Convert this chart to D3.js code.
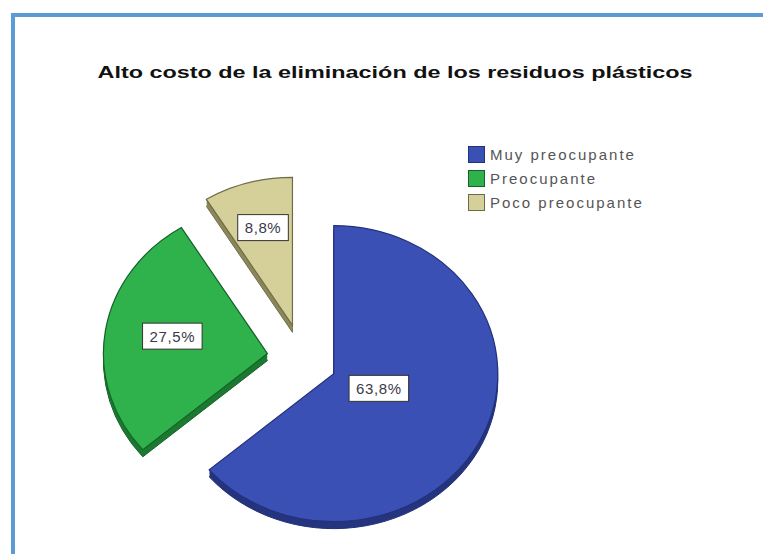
<!DOCTYPE html>
<html>
<head>
<meta charset="utf-8">
<script src="https://cdn.jsdelivr.net/npm/d3@7"></script>
<style>
  html, body { margin: 0; padding: 0; background: #ffffff; }
  svg { display: block; }
</style>
</head>
<body>
<svg id="chart" width="763" height="554"></svg>
<script>
// Survey answers: how worrying is the high cost of disposing of plastic waste
const categories = ["Muy preocupante", "Preocupante", "Poco preocupante"];
const percentages = [63.8, 27.5, 8.8];
const titleText = "Alto costo de la eliminación de los residuos plásticos";

const topColors  = ["#3b50b4", "#2fb24b", "#d5cf99"];
const sideColors = ["#25357f", "#1c7a31", "#8d885b"];
const edgeColors = ["#24317a", "#17612a", "#6f6b46"];

const svg = d3.select("#chart");
const W = 763, H = 554;

// Frame
svg.append("rect")
  .attr("x", 13).attr("y", 15)
  .attr("width", W + 20).attr("height", H + 20)
  .attr("fill", "none")
  .attr("stroke", "#5b9bd5")
  .attr("stroke-width", 4);

// Title, stretched to its line width
svg.append("text")
  .attr("x", 395).attr("y", 78)
  .attr("text-anchor", "middle")
  .attr("font-family", "'Liberation Sans', Arial, sans-serif")
  .attr("font-weight", "bold")
  .attr("font-size", 17)
  .attr("textLength", 595)
  .attr("lengthAdjust", "spacingAndGlyphs")
  .attr("fill", "#111")
  .text(titleText);

// Pie geometry (tilted 3D pie with every slice pulled out)
const cx = 302, cy = 359;
const rx = 164, ry = 148;
const explode = 35;
const depth = 7;

const pie = d3.pie().sort(null).value(d => d)
  .startAngle(0).endAngle(2 * Math.PI);
const arcs = pie(percentages);
const arc = d3.arc().innerRadius(0).outerRadius(rx);

const fmt = v => d3.format(".1f")(v).replace(".", ",") + "%";

const pieG = svg.append("g");
const labelG = svg.append("g");

arcs.forEach((a, i) => {
  const mid = (a.startAngle + a.endAngle) / 2;
  const ox = Math.sin(mid) * explode;
  const oy = -Math.cos(mid) * explode;
  const g = pieG.append("g")
    .attr("transform", `translate(${cx + ox},${cy + oy})`);

  // side walls: stacked copies pushed down
  for (let k = depth; k >= 1; k--) {
    g.append("path")
      .attr("transform", `translate(0,${k}) scale(1,${ry / rx})`)
      .attr("d", arc(a))
      .attr("fill", sideColors[i])
      .attr("stroke", k === depth ? edgeColors[i] : "none")
      .attr("stroke-width", 1)
      .attr("vector-effect", "non-scaling-stroke");
  }
  // top face
  g.append("path")
    .attr("transform", `scale(1,${ry / rx})`)
    .attr("d", arc(a))
    .attr("fill", topColors[i])
    .attr("stroke", edgeColors[i])
    .attr("stroke-width", 1.2)
    .attr("vector-effect", "non-scaling-stroke");

  // value label at the sector centroid
  const half = (a.endAngle - a.startAngle) / 2;
  const dist = 2 * rx * Math.sin(half) / (3 * half);
  const lx = cx + ox + Math.sin(mid) * dist;
  const ly = cy + oy - Math.cos(mid) * dist * (ry / rx) - 4;

  const t = labelG.append("text")
    .attr("x", lx).attr("y", ly)
    .attr("text-anchor", "middle")
    .attr("dominant-baseline", "central")
    .attr("font-family", "'Liberation Sans', Arial, sans-serif")
    .attr("font-size", 15)
    .attr("letter-spacing", 0.6)
    .attr("fill", "#3a3a4a")
    .text(fmt(a.data));
  const bb = t.node().getBBox();
  labelG.insert("rect", "text")
    .attr("x", lx - bb.width / 2 - 7)
    .attr("y", ly - 13)
    .attr("width", bb.width + 14)
    .attr("height", 26)
    .attr("fill", "#ffffff")
    .attr("stroke", "#333")
    .attr("stroke-width", 1);
});

// Legend
const legend = svg.append("g").attr("transform", "translate(468,146)");
categories.forEach((c, i) => {
  const row = legend.append("g").attr("transform", `translate(0,${i * 24})`);
  row.append("rect")
    .attr("x", 0.5).attr("y", 0.5)
    .attr("width", 16).attr("height", 16)
    .attr("fill", topColors[i])
    .attr("stroke", edgeColors[i]);
  row.append("text")
    .attr("x", 22).attr("y", 14)
    .attr("font-family", "'Liberation Sans', Arial, sans-serif")
    .attr("font-size", 15)
    .attr("letter-spacing", 2)
    .attr("fill", "#555")
    .text(c);
});
</script>
</body>
</html>
